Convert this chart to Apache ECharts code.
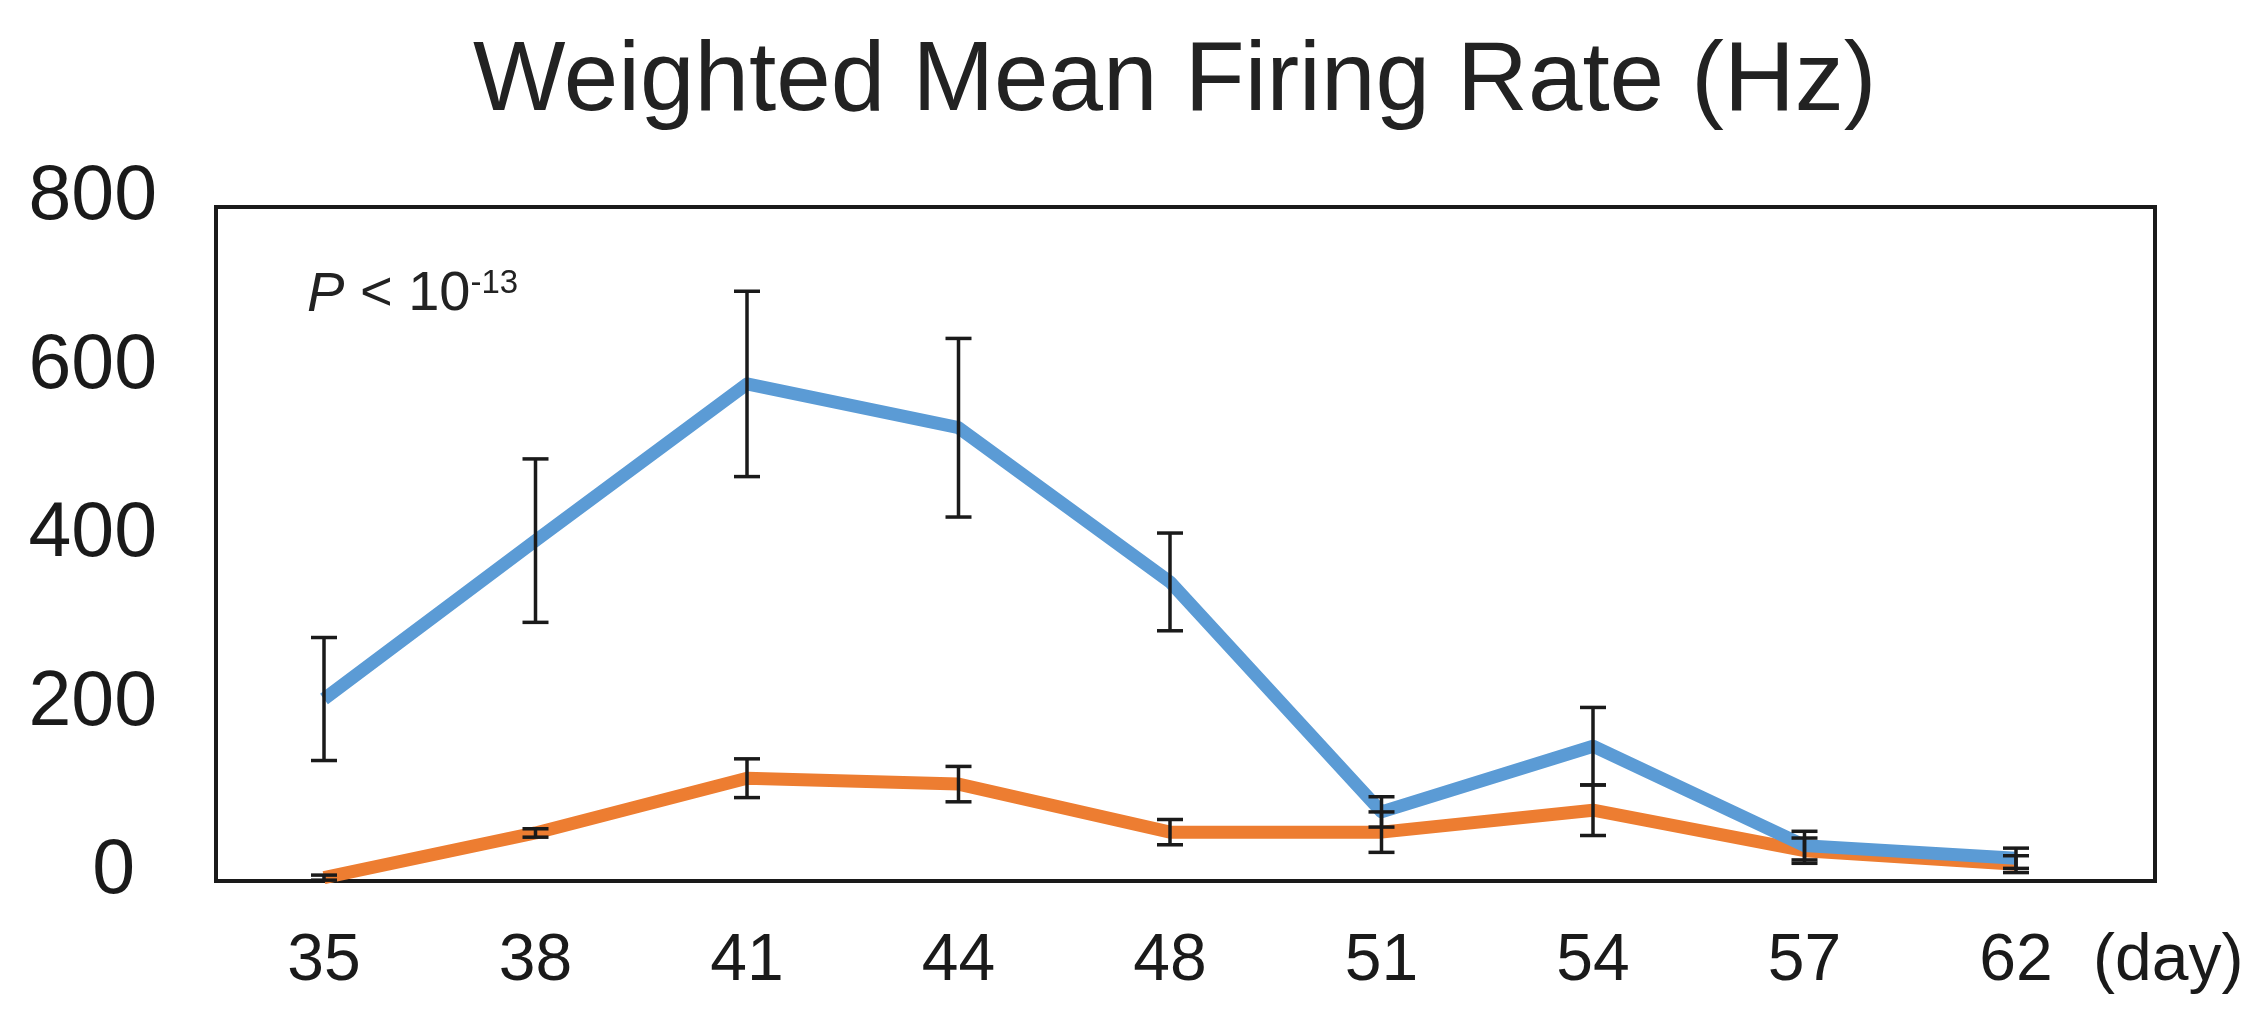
<!DOCTYPE html>
<html>
<head>
<meta charset="utf-8">
<title>Weighted Mean Firing Rate (Hz)</title>
<script src="https://cdn.jsdelivr.net/npm/echarts@6/dist/echarts.min.js"></script>
<style>
  html, body { margin: 0; padding: 0; background: #ffffff; }
  #chart { width: 2260px; height: 1013px; }
</style>
</head>
<body>
<div id="chart"></div>
<script>
// Culture age in days
const days = ['35', '38', '41', '44', '48', '51', '54', '57', '62'];

// Blue group: mean and error
const blueMean = [216, 404, 590, 538, 355, 82, 160, 42, 27];
const blueErr  = [73, 97, 110, 106, 58, 18, 46, 17, 12];

// Orange group: mean and error
const orangeMean = [4, 57, 122, 115, 58, 58, 84, 36, 20];
const orangeErr  = [3, 5, 23, 21, 15, 24, 30, 15, 10];

const yTicks = { min: 0, max: 800, step: 200 };

const FONT = "'Liberation Sans', Arial, Helvetica, sans-serif";
const INK = '#1a1a1a';

function errorData(mean, err) {
  return mean.map((v, i) => [i, v, err[i]]);
}

function renderErrorBar(params, api) {
  const i = api.value(0);
  const v = api.value(1);
  const e = api.value(2);
  const hi = api.coord([i, v + e]);
  const lo = api.coord([i, v - e]);
  const hw = 13;
  const style = { stroke: INK, lineWidth: 3.5 };
  return {
    type: 'group',
    children: [
      { type: 'line', shape: { x1: hi[0], y1: hi[1], x2: lo[0], y2: lo[1] }, style },
      { type: 'line', shape: { x1: hi[0] - hw, y1: hi[1], x2: hi[0] + hw, y2: hi[1] }, style },
      { type: 'line', shape: { x1: lo[0] - hw, y1: lo[1], x2: lo[0] + hw, y2: lo[1] }, style }
    ]
  };
}

const chart = echarts.init(document.getElementById('chart'), null, { renderer: 'canvas' });

chart.setOption({
  backgroundColor: '#ffffff',
  animation: false,
  title: [
    {
      text: 'Weighted Mean Firing Rate (Hz)',
      left: 468,
      top: 29,
      textStyle: { fontFamily: FONT, fontSize: 98, fontWeight: 'normal', color: '#222222' }
    },
    {
      text: '{i|P}{n| < 10}{s|-13}',
      left: 302,
      top: 262,
      textStyle: {
        fontFamily: FONT,
        fontWeight: 'normal',
        color: '#222222',
        rich: {
          i: { fontFamily: FONT, fontSize: 56, fontStyle: 'italic', fontWeight: 'normal', color: '#222222' },
          n: { fontFamily: FONT, fontSize: 56, fontWeight: 'normal', color: '#222222' },
          s: { fontFamily: FONT, fontSize: 33, fontWeight: 'normal', color: '#222222', verticalAlign: 'top' }
        }
      }
    }
  ],
  grid: [
    // plot frame
    { left: 216, right: 105, top: 207, bottom: 132, show: true, borderColor: INK, borderWidth: 4, backgroundColor: 'transparent' },
    // data area
    { left: 324, right: 244, top: 207, bottom: 132 }
  ],
  xAxis: [
    { gridIndex: 0, type: 'value', show: false, min: 0, max: 1 },
    {
      gridIndex: 1,
      type: 'category',
      data: days,
      boundaryGap: false,
      axisLine: { show: false },
      axisTick: { show: false },
      splitLine: { show: false },
      axisLabel: { margin: 48, fontFamily: FONT, fontSize: 66, color: INK },
      name: '(day)',
      nameLocation: 'end',
      nameGap: 77,
      nameTextStyle: { fontFamily: FONT, fontSize: 66, color: INK, verticalAlign: 'top', padding: [48, 0, 0, 0] }
    }
  ],
  yAxis: [
    { gridIndex: 0, type: 'value', show: false, min: 0, max: 1 },
    {
      gridIndex: 1,
      type: 'value',
      min: yTicks.min,
      max: yTicks.max,
      interval: yTicks.step,
      offset: 108,
      axisLine: { show: false },
      axisTick: { show: false },
      splitLine: { show: false },
      axisLabel: {
        margin: 59,
        fontFamily: FONT,
        fontSize: 77,
        color: INK,
        padding: [0, 0, 18, 0],
        formatter: v => (v === 0 ? '{z|0}' : String(v)),
        rich: { z: { fontFamily: FONT, fontSize: 77, color: INK, padding: [0, 22, 0, 0] } }
      }
    }
  ],
  series: [
    {
      name: 'orange',
      type: 'line',
      xAxisIndex: 1,
      yAxisIndex: 1,
      data: orangeMean,
      showSymbol: false,
      symbol: 'none',
      lineStyle: { color: '#ED7D31', width: 13, join: 'round' },
      z: 2
    },
    {
      name: 'blue',
      type: 'line',
      xAxisIndex: 1,
      yAxisIndex: 1,
      data: blueMean,
      showSymbol: false,
      symbol: 'none',
      lineStyle: { color: '#5B9BD5', width: 13, join: 'round' },
      z: 3
    },
    {
      name: 'orangeErr',
      type: 'custom',
      xAxisIndex: 1,
      yAxisIndex: 1,
      data: errorData(orangeMean, orangeErr),
      renderItem: renderErrorBar,
      z: 4
    },
    {
      name: 'blueErr',
      type: 'custom',
      xAxisIndex: 1,
      yAxisIndex: 1,
      data: errorData(blueMean, blueErr),
      renderItem: renderErrorBar,
      z: 4
    }
  ]
});
</script>
</body>
</html>
